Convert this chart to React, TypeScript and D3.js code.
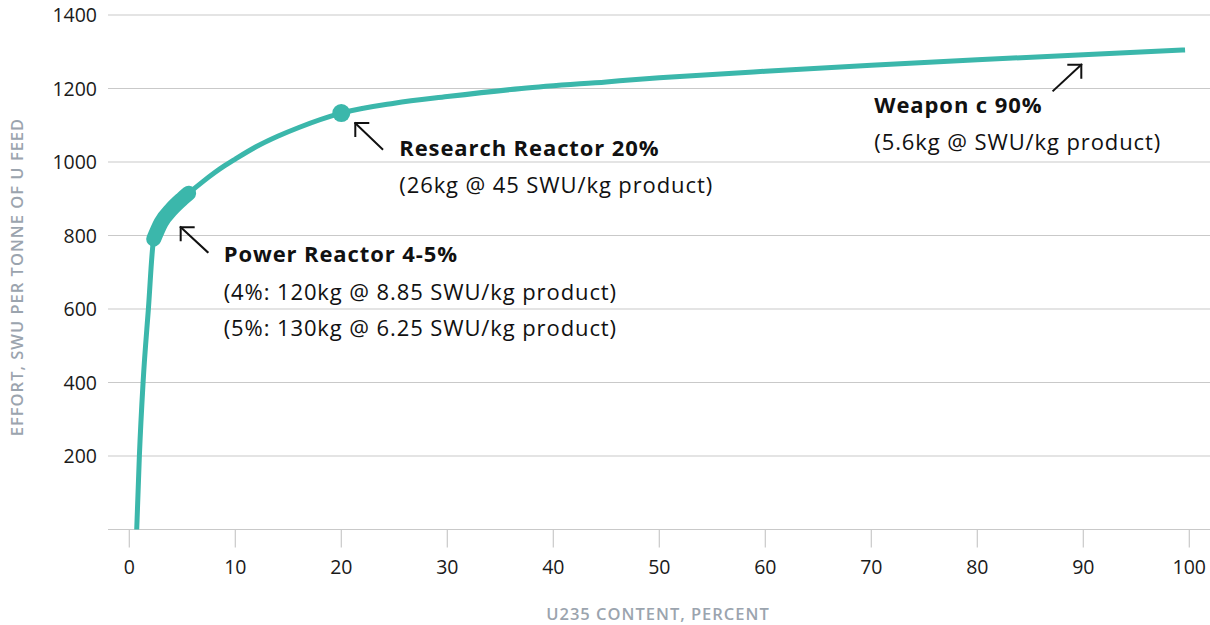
import React from 'react';
import * as d3 from 'd3';

// U235 content (%) vs effort (SWU per tonne of U feed)
const enrichment = [0.7, 0.95, 1.3, 1.8, 2.3, 3, 4, 5, 5.6, 7, 8, 9, 10, 12, 14, 16, 20, 25, 30, 37, 45, 50, 60, 70, 80, 90, 99.6];
const effort = [0, 200, 400, 600, 790, 835, 872, 900, 915, 948, 970, 990, 1008, 1042, 1070, 1094, 1133, 1160, 1178, 1200, 1218, 1229, 1247, 1263, 1278, 1292, 1305];

// highlighted power reactor band and research reactor point
const powerX = [2.3, 3, 4, 5, 5.6];
const powerY = [790, 835, 872, 900, 915];
const researchPoint = { x: 20, y: 1133 };

const xTicks = [0, 10, 20, 30, 40, 50, 60, 70, 80, 90, 100];
const yTicks = [200, 400, 600, 800, 1000, 1200, 1400];

const WIDTH = 1210;
const HEIGHT = 625;
const TEAL = '#3bb7ab';
const GRID = '#c9c9c9';
const FONT = '"Open Sans", Lato, sans-serif';

type Pt = [number, number];

const Arrow: React.FC<{ from: Pt; to: Pt; dirX: number; dirY: number }> = ({ from, to, dirX, dirY }) => {
  const h = 13;
  return (
    <g stroke="#111" strokeWidth={2} fill="none" strokeLinecap="square">
      <line x1={from[0]} y1={from[1]} x2={to[0]} y2={to[1]} />
      <polyline points={`${to[0] + dirX * h},${to[1]} ${to[0]},${to[1]} ${to[0]},${to[1] + dirY * h}`} />
    </g>
  );
};

const Label: React.FC<{ x: number; y: number; bold?: boolean; children: React.ReactNode }> = ({ x, y, bold, children }) => (
  <text x={x} y={y} fontSize={22} fontWeight={bold ? 700 : 400} letterSpacing={0.9} fill="#111">
    {children}
  </text>
);

const App: React.FC = () => {
  const x = d3.scaleLinear().domain([0, 100]).range([129.3, 1189.3]);
  const y = d3.scaleLinear().domain([0, 1400]).range([529.5, 15]);

  const line = d3
    .line<number>()
    .x((_, i) => x(enrichment[i]))
    .y((d) => y(d))
    .curve(d3.curveMonotoneX);

  const powerLine = d3
    .line<number>()
    .x((_, i) => x(powerX[i]))
    .y((d) => y(d))
    .curve(d3.curveMonotoneX);

  const rx = x(researchPoint.x);
  const ry = y(researchPoint.y);
  const px = x(powerX[0]);
  const py = y(powerY[0]);
  const wx = x(90);
  const wy = y(1292);

  return (
    <svg
      width={WIDTH}
      height={HEIGHT}
      style={{ position: 'absolute', left: 0, top: 0, background: '#fff' }}
      fontFamily={FONT}
    >
      {/* grid */}
      {[0, ...yTicks].map((t) => (
        <line key={t} x1={108} x2={WIDTH} y1={y(t)} y2={y(t)} stroke={GRID} strokeWidth={1.2} />
      ))}
      {yTicks.map((t) => (
        <text key={t} x={97} y={y(t)} dy="0.36em" textAnchor="end" fontSize={19.5} fill="#1a1a1a">
          {t}
        </text>
      ))}
      {xTicks.map((t) => (
        <g key={t}>
          <line x1={x(t)} x2={x(t)} y1={y(0)} y2={y(0) + 18} stroke={GRID} strokeWidth={1.2} />
          <text x={x(t)} y={574} textAnchor="middle" fontSize={19.5} fill="#1a1a1a">
            {t}
          </text>
        </g>
      ))}

      {/* axis titles */}
      <text
        transform="translate(23,277) rotate(-90)"
        textAnchor="middle"
        fontSize={16.5}
        fontWeight={600}
        letterSpacing={1}
        fill="#9ba4ae"
      >
        EFFORT, SWU PER TONNE OF U FEED
      </text>
      <text x={658} y={620} textAnchor="middle" fontSize={16.5} fontWeight={600} letterSpacing={1} fill="#9ba4ae">
        U235 CONTENT, PERCENT
      </text>

      {/* curve */}
      <path d={line(effort) ?? ''} fill="none" stroke={TEAL} strokeWidth={5} />
      <path d={powerLine(powerY) ?? ''} fill="none" stroke={TEAL} strokeWidth={15} strokeLinecap="round" />
      <circle cx={rx} cy={ry} r={9} fill={TEAL} />

      {/* research reactor */}
      <Arrow from={[rx + 41, ry + 36]} to={[rx + 14, ry + 10]} dirX={1} dirY={1} />
      <Label x={rx + 58} y={ry + 43} bold>
        Research Reactor 20%
      </Label>
      <Label x={rx + 58} y={ry + 80}>
        (26kg @ 45 SWU/kg product)
      </Label>

      {/* power reactor */}
      <Arrow from={[px + 54, py + 13]} to={[px + 27, py - 12]} dirX={1} dirY={1} />
      <Label x={px + 70} y={py + 23} bold>
        Power Reactor 4-5%
      </Label>
      <Label x={px + 70} y={py + 61}>
        (4%: 120kg @ 8.85 SWU/kg product)
      </Label>
      <Label x={px + 70} y={py + 97}>
        (5%: 130kg @ 6.25 SWU/kg product)
      </Label>

      {/* weapon */}
      <Arrow from={[wx - 30, wy + 36]} to={[wx - 2, wy + 10]} dirX={-1} dirY={1} />
      <Label x={wx - 209} y={wy + 58} bold>
        Weapon c 90%
      </Label>
      <Label x={wx - 209} y={wy + 95}>
        (5.6kg @ SWU/kg product)
      </Label>
    </svg>
  );
};

export default App;
